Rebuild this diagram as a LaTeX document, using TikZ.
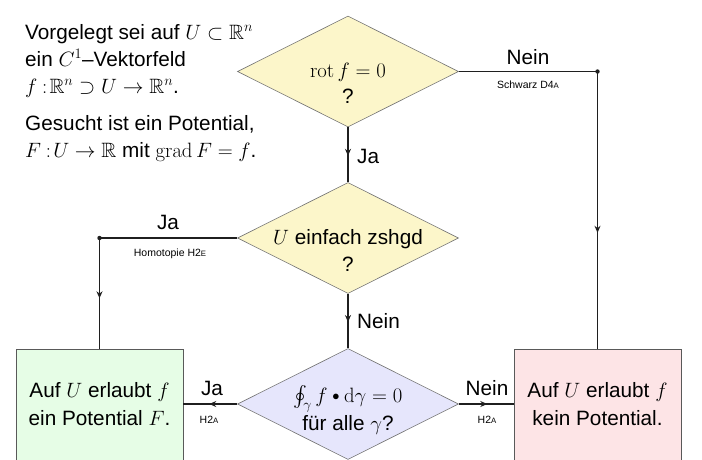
\documentclass[tikz,border=0pt]{standalone}
\usepackage{amsmath,amssymb}
\usepackage[no-math]{fontspec}
\setmainfont{Liberation Sans}
\usetikzlibrary{shapes.geometric,arrows.meta,decorations.markings}
\definecolor{ylw}{HTML}{FCF6CA}
\definecolor{grn}{HTML}{E6FDE6}
\definecolor{pnk}{HTML}{FDE4E6}
\definecolor{blu}{HTML}{E6E6FC}
\newcommand{\smc}[1]{{\fontsize{7.8}{8}\selectfont #1}}
\newcommand{\sbul}{\mathbin{\vcenter{\hbox{$\scriptstyle\bullet$}}}}
\newcommand{\mycolon}{\mskip4mu{:}\mskip2mu}
\tikzset{
  conn/.style={draw=black!88, line width=1.3pt},
  midarrow/.style={postaction={decorate}, decoration={markings, mark=at position #1 with {\arrow{Stealth[length=7pt,width=6pt]}}}},
  dia/.style={diamond, draw=black!55, line width=0.6pt, minimum width=221pt, minimum height=111pt, inner sep=0pt, aspect=2},
  box/.style={rectangle, draw=black!65, line width=0.8pt, minimum width=167pt, minimum height=140pt, anchor=north},
  big/.style={font=\fontsize{20.74}{25}\selectfont, inner sep=0pt, anchor=base},
  bigl/.style={big, anchor=base west},
  small/.style={font=\fontsize{10.5}{12}\selectfont, inner sep=0pt, anchor=base},
  dot/.style={fill=black!88},
}
\begin{document}
\begin{tikzpicture}[x=1pt,y=-1pt]
\useasboundingbox (0,0) rectangle (702,459);
\clip (0,0) rectangle (702,459);
% shapes
\node[dia, fill=ylw] (d1) at (348,71.5) {};
\node[dia, fill=ylw] (d2) at (348,238) {};
\node[dia, fill=blu] (d3) at (348,404) {};
\node[box, fill=grn] (g) at (99.5,349) {};
\node[box, fill=pnk] (r) at (597.5,349) {};
% connectors
\coordinate (c1) at (r.north |- d1.east);
\coordinate (c2) at (g.north |- d2.west);
\coordinate (e1) at (d3.west -| g.east);
\coordinate (e2) at (d3.east -| r.west);
\draw[conn, midarrow=300pt] (d1.east) -- (c1) -- (r.north);
\draw[conn, midarrow=0.52] (d1.south) -- (d2.north);
\draw[conn, midarrow=198pt] (d2.west) -- (c2) -- (g.north);
\draw[conn, midarrow=0.52] (d2.south) -- (d3.north);
\draw[conn, midarrow=0.52] (d3.west) -- (e1);
\draw[conn, midarrow=0.52] (d3.east) -- (e2);
\fill[dot] (c1) circle (2.2pt);
\fill[dot] (c2) circle (2.2pt);
% intro text
\node[bigl] (i1) at (25,39) {Vorgelegt sei auf $U\subset\mathbb{R}^n$};
\node[bigl] (i2) at (25,66) {ein $C^1$--Vektorfeld};
\node[bigl] (i3) at (25,93) {$f\mycolon\mathbb{R}^n\supset U\to\mathbb{R}^n$.};
\node[bigl] (i4) at (25,130) {Gesucht ist ein Potential,};
\node[bigl] (i5) at (25,157) {$F\mycolon U\to\mathbb{R}$ mit $\operatorname{grad}F=f$.};
% diamond texts
\node[big] (t1a) at (348,77) {$\mathrm{rot}\,f=0$};
\node[big] (t1b) at (348,103) {?};
\node[big] (t2a) at (348,244) {$U$ einfach zshgd};
\node[big] (t2b) at (348,271) {?};
\node[big] (t3a) at (348,402) {$\oint_\gamma f\sbul\mathrm{d}\gamma=0$};
\node[big] (t3b) at (348,430) {für alle $\gamma$?};
% box texts
\node[big] (g1) at (99.5,397) {Auf $U$ erlaubt $f$};
\node[big] (g2) at (99.5,425.5) {ein Potential $F$.};
\node[big] (r1) at (597.5,397) {Auf $U$ erlaubt $f$};
\node[big] (r2) at (597.5,425.5) {kein Potential.};
% labels
\node[big] (l1) at (528,64) {Nein};
\node[small] (s1) at (528,88) {Schwarz D4\smc{A}};
\node[bigl] (l2) at (357,163) {Ja};
\node[big] (l3) at (168,229) {Ja};
\node[small] (s3) at (170,256) {Homotopie H2\smc{E}};
\node[bigl] (l4) at (357,328) {Nein};
\node[big] (l5) at (212,395) {Ja};
\node[small] (s5) at (209,423) {H2\smc{A}};
\node[big] (l6) at (487,395) {Nein};
\node[small] (s6) at (487,423) {H2\smc{A}};
\end{tikzpicture}
\end{document}
